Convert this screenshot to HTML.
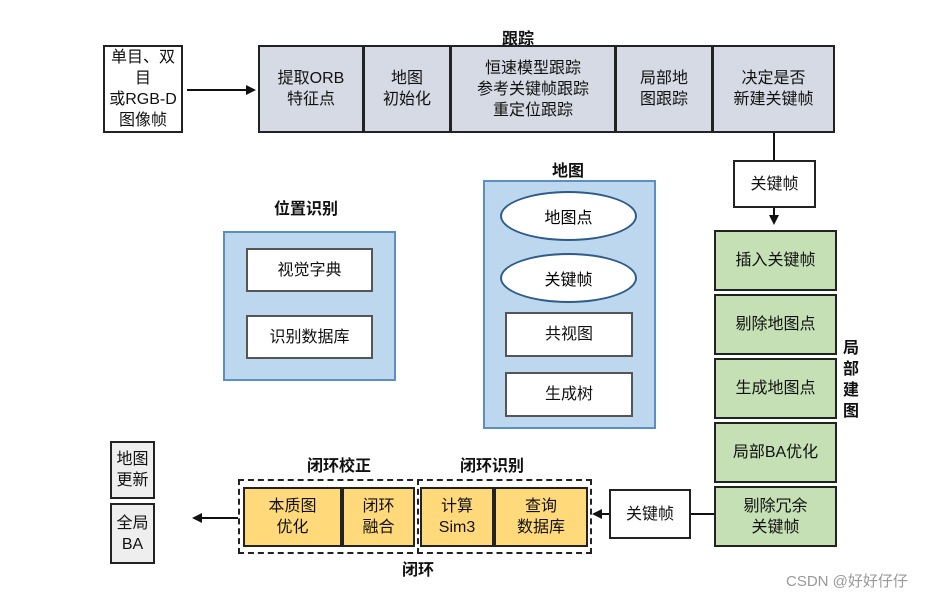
<!DOCTYPE html>
<html><head><meta charset="utf-8"><style>
body{margin:0;background:#fff;width:945px;height:598px;position:relative;overflow:hidden;font-family:"Liberation Sans","Noto Sans CJK SC",sans-serif;}
.b{position:absolute;box-sizing:border-box;border:2px solid #222;display:flex;align-items:center;justify-content:center;text-align:center;font-size:16px;line-height:21px;color:#111;}
.g{background:#d6dae4}.gr{background:#c5e0b4}.y{background:#ffd97a}.lg{background:#eeeeee}.bl{background:#bdd7ee;border-color:#5b8fc4}
.w{background:#fff}
.t{position:absolute;font-size:16px;font-weight:bold;color:#111;white-space:nowrap}
.e{position:absolute;box-sizing:border-box;border:2px solid #2e5c8a;border-radius:50%;background:#fff;display:flex;align-items:center;justify-content:center;font-size:16px}
</style></head><body>
<div class="t" style="left:502px;top:25px">跟踪</div>
<div class="b w" style="left:103px;top:45px;width:80px;height:88px">单目、双目<br>或RGB-D<br>图像帧</div>
<div class="b g" style="left:258px;top:45px;width:106px;height:88px">提取ORB<br>特征点</div>
<div class="b g" style="left:363px;top:45px;width:88px;height:88px">地图<br>初始化</div>
<div class="b g" style="left:450px;top:45px;width:166px;height:88px">恒速模型跟踪<br>参考关键帧跟踪<br>重定位跟踪</div>
<div class="b g" style="left:615px;top:45px;width:98px;height:88px">局部地<br>图跟踪</div>
<div class="b g" style="left:712px;top:45px;width:123px;height:88px">决定是否<br>新建关键帧</div>
<div class="b w" style="left:733px;top:160px;width:83px;height:48px">关键帧</div>
<div class="b gr" style="left:714px;top:230px;width:123px;height:61px">插入关键帧</div>
<div class="b gr" style="left:714px;top:294px;width:123px;height:61px">剔除地图点</div>
<div class="b gr" style="left:714px;top:358px;width:123px;height:61px">生成地图点</div>
<div class="b gr" style="left:714px;top:422px;width:123px;height:61px">局部BA优化</div>
<div class="b gr" style="left:714px;top:486px;width:123px;height:61px">剔除冗余<br>关键帧</div>
<div class="t" style="left:843px;top:338px;line-height:21px;width:18px">局<br>部<br>建<br>图</div>
<div class="t" style="left:274px;top:195px">位置识别</div>
<div class="b bl" style="left:223px;top:231px;width:173px;height:150px"></div>
<div class="b w" style="left:246px;top:248px;width:127px;height:44px;border-color:#555">视觉字典</div>
<div class="b w" style="left:246px;top:315px;width:127px;height:44px;border-color:#555">识别数据库</div>
<div class="t" style="left:552px;top:157px">地图</div>
<div class="b bl" style="left:483px;top:180px;width:173px;height:249px"></div>
<div class="e" style="left:500px;top:191px;width:137px;height:50px">地图点</div>
<div class="e" style="left:500px;top:253px;width:137px;height:50px">关键帧</div>
<div class="b w" style="left:505px;top:312px;width:128px;height:45px;border-color:#555">共视图</div>
<div class="b w" style="left:505px;top:372px;width:128px;height:45px;border-color:#555">生成树</div>
<div class="b w" style="left:609px;top:489px;width:82px;height:50px">关键帧</div>
<div class="t" style="left:307px;top:452px">闭环校正</div>
<div class="t" style="left:460px;top:452px">闭环识别</div>
<div class="t" style="left:402px;top:556px">闭环</div>
<div style="position:absolute;left:238px;top:479px;width:354px;height:75px;box-sizing:border-box;border:2px dashed #222"></div>
<div style="position:absolute;left:417px;top:479px;height:75px;border-left:2px dashed #222"></div>
<div class="b y" style="left:243px;top:487px;width:99px;height:60px">本质图<br>优化</div>
<div class="b y" style="left:342px;top:487px;width:73px;height:60px">闭环<br>融合</div>
<div class="b y" style="left:420px;top:487px;width:74px;height:60px">计算<br>Sim3</div>
<div class="b y" style="left:494px;top:487px;width:94px;height:60px">查询<br>数据库</div>
<div class="b lg" style="left:110px;top:441px;width:45px;height:58px">地图<br>更新</div>
<div class="b lg" style="left:110px;top:503px;width:45px;height:61px">全局<br>BA</div>
<div style="position:absolute;left:786px;top:570px;font-size:15px;color:#999">CSDN @好好仔仔</div>
<svg width="945" height="598" style="position:absolute;left:0;top:0" fill="#111" stroke="#111" stroke-width="2">
<line x1="187" y1="90" x2="248" y2="90"/><polygon points="256,90 246,85 246,95" stroke="none"/>
<line x1="774" y1="133" x2="774" y2="160"/>
<line x1="774" y1="208" x2="774" y2="217"/><polygon points="774,225 769,215 779,215" stroke="none"/>
<line x1="714" y1="514" x2="691" y2="514"/>
<line x1="609" y1="514" x2="600" y2="514"/><polygon points="592,514 602,509 602,519" stroke="none"/>
<line x1="238" y1="518" x2="200" y2="518"/><polygon points="192,518 202,513 202,523" stroke="none"/>
</svg>
</body></html>
